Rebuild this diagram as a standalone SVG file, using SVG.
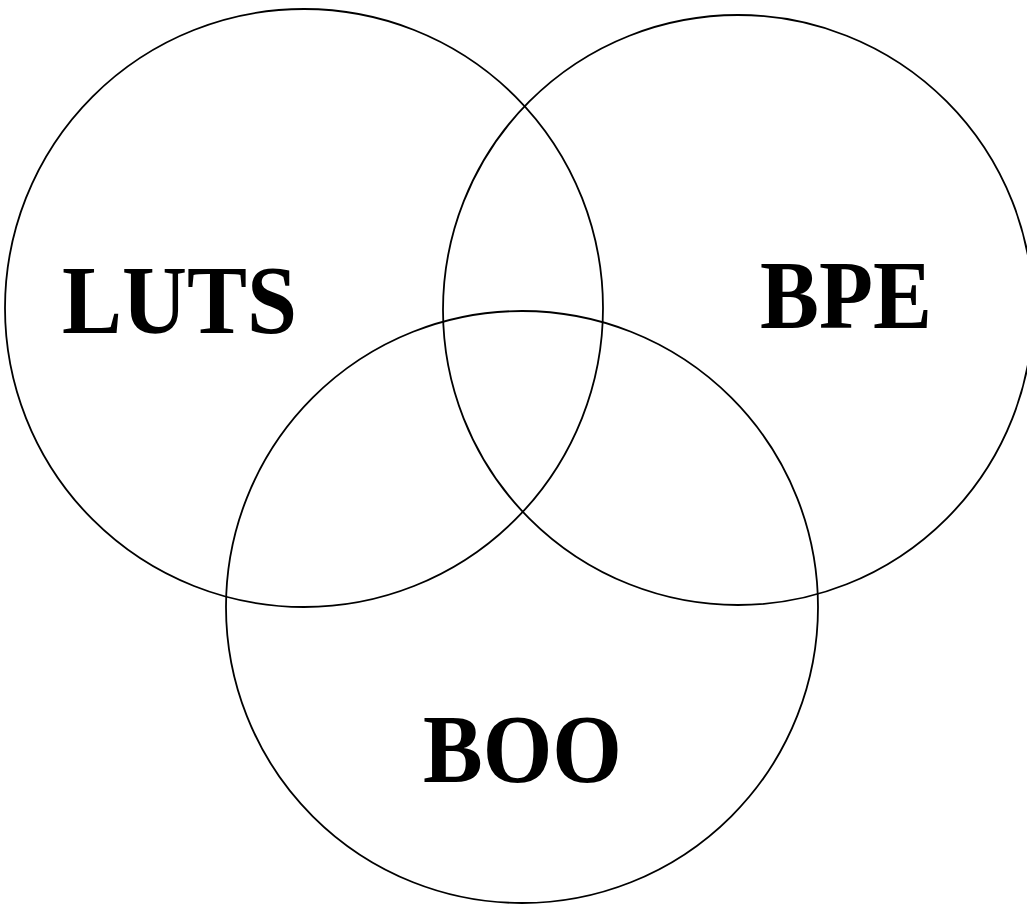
<svg xmlns="http://www.w3.org/2000/svg" width="1027" height="905" viewBox="0 0 1027 905">
<style>
.c{fill:none;stroke:#000;stroke-width:1.8}
text{font-family:'Liberation Serif','Times New Roman',Times,serif;font-weight:700;font-size:98px;fill:#000}
</style>
<rect width="1027" height="905" fill="#fff"/>
<g id="luts"><circle class="c" cx="304" cy="308" r="299"/><text x="62" y="333" textLength="235" lengthAdjust="spacingAndGlyphs">LUTS</text></g>
<g id="bpe"><circle class="c" cx="738" cy="310" r="295"/><text x="760" y="328" textLength="172" lengthAdjust="spacingAndGlyphs">BPE</text></g>
<g id="boo"><circle class="c" cx="522" cy="607" r="296"/><text x="423" y="782" textLength="199" lengthAdjust="spacingAndGlyphs">BOO</text></g>
<g id="connectors"/>
</svg>
